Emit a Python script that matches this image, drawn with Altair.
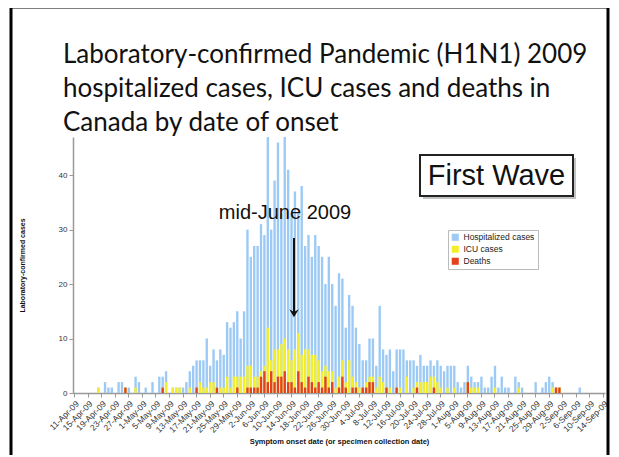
import altair as alt
import pandas as pd

# ---------------- data ----------------
tick_labels = ["11-Apr-09", "15-Apr-09", "19-Apr-09", "23-Apr-09", "27-Apr-09",
               "1-May-09", "5-May-09", "9-May-09", "13-May-09", "17-May-09",
               "21-May-09", "25-May-09", "29-May-09", "2-Jun-09", "6-Jun-09",
               "10-Jun-09", "14-Jun-09", "18-Jun-09", "22-Jun-09", "26-Jun-09",
               "30-Jun-09", "4-Jul-09", "8-Jul-09", "12-Jul-09", "16-Jul-09",
               "20-Jul-09", "24-Jul-09", "28-Jul-09", "1-Aug-09", "5-Aug-09",
               "9-Aug-09", "13-Aug-09", "17-Aug-09", "21-Aug-09", "25-Aug-09",
               "29-Aug-09", "2-Sep-09", "6-Sep-09", "10-Sep-09", "14-Sep-09"]

days = [f"{d.day}-{d.strftime('%b-%y')}" for d in pd.date_range("2009-04-11", "2009-09-14")]

hospitalized = [
    0, 0, 0, 0, 0, 0, 0, 1, 0, 2,      # 11-Apr .. 20-Apr
    1, 1, 0, 2, 2, 1, 1, 0, 3, 2,      # 21-Apr .. 30-Apr
    0, 1, 0, 2, 0, 3, 3, 4, 0, 1,      # 1-May .. 10-May
    1, 1, 1, 2, 4, 5, 6, 6, 6, 10,     # 11-May .. 20-May
    5, 8, 6, 8, 7, 13, 12, 13, 15, 10, # 21-May .. 30-May
    15, 30, 25, 27, 27, 31, 29, 50, 30, 39,  # 31-May .. 9-Jun
    46, 33, 49, 41, 33, 37, 33, 38, 27, 29,  # 10-Jun .. 19-Jun
    25, 29, 27, 25, 20, 25, 20, 16, 22, 21,  # 20-Jun .. 29-Jun
    12, 18, 16, 12, 9, 6, 6, 10, 10, 5,      # 30-Jun .. 9-Jul
    16, 8, 7, 8, 4, 8, 8, 8, 6, 6,           # 10-Jul .. 19-Jul
    6, 5, 7, 5, 5, 6, 5, 6, 5, 4,            # 20-Jul .. 29-Jul
    5, 5, 5, 2, 1, 2, 5, 3, 2, 2,            # 30-Jul .. 8-Aug
    3, 1, 1, 3, 5, 1, 3, 1, 1, 0,            # 9-Aug .. 18-Aug
    3, 2, 1, 0, 0, 0, 2, 0, 1, 2,            # 19-Aug .. 28-Aug
    3, 2, 1, 1, 0, 0, 0, 0, 0, 1,            # 29-Aug .. 7-Sep
    0, 0, 0, 0, 0, 0, 0]                     # 8-Sep .. 14-Sep

icu = [
    0, 0, 0, 0, 0, 0, 0, 1, 0, 0,
    0, 0, 0, 0, 0, 1, 0, 0, 1, 0,
    0, 0, 0, 0, 0, 0, 1, 2, 0, 1,
    1, 1, 0, 0, 1, 0, 1, 2, 1, 1,
    2, 2, 1, 1, 1, 3, 1, 3, 3, 3,
    3, 5, 5, 3, 3, 4, 5, 12, 6, 8,
    8, 9, 10, 8, 6, 8, 11, 7, 8, 8,
    7, 7, 6, 4, 5, 4, 4, 1, 3, 6,
    2, 6, 3, 2, 1, 1, 2, 3, 3, 1,
    3, 2, 1, 1, 0, 1, 1, 0, 3, 0,
    1, 2, 2, 2, 2, 3, 3, 2, 1, 0,
    1, 0, 1, 0, 0, 0, 2, 1, 1, 1,
    0, 0, 0, 0, 1, 0, 0, 0, 0, 0,
    0, 1, 0, 0, 0, 0, 0, 0, 0, 0,
    0, 1, 1, 1, 0, 0, 0, 0, 0, 0,
    0, 0, 0, 0, 0, 0, 0]

deaths = [
    0, 0, 0, 0, 0, 0, 0, 0, 0, 0,
    0, 0, 0, 0, 0, 1, 0, 0, 0, 0,
    0, 0, 0, 0, 0, 0, 1, 0, 0, 0,
    0, 0, 0, 0, 0, 0, 1, 0, 0, 0,
    0, 0, 1, 0, 0, 0, 0, 0, 1, 0,
    0, 1, 1, 1, 1, 3, 4, 2, 4, 2,
    3, 3, 4, 2, 2, 1, 4, 2, 1, 3,
    2, 1, 2, 1, 3, 1, 2, 0, 1, 3,
    1, 0, 1, 1, 0, 1, 1, 2, 2, 0,
    0, 0, 1, 0, 0, 1, 0, 0, 0, 0,
    0, 1, 0, 0, 0, 0, 1, 0, 0, 0,
    0, 0, 0, 0, 0, 0, 2, 0, 0, 0,
    0, 0, 0, 0, 0, 0, 0, 0, 0, 0,
    0, 0, 0, 0, 0, 0, 0, 0, 0, 0,
    0, 0, 1, 1, 0, 0, 0, 0, 0, 0,
    0, 0, 0, 0, 0, 0, 0]

series_names = ["Hospitalized cases", "ICU cases", "Deaths"]
series_colors = ["#9ccaf5", "#f4ee2a", "#e5421c"]

title_lines = ["Laboratory-confirmed Pandemic (H1N1) 2009",
               "hospitalized cases, ICU cases and deaths in",
               "Canada by date of onset"]

# ---------------- build table ----------------
rows = []
for name, vals in zip(series_names, [hospitalized, icu, deaths]):
    for day, v in zip(days, vals):
        rows.append({"date": day, "series": name, "value": v})
df = pd.DataFrame(rows)
one = pd.DataFrame({"k": [0]})

PW, PH = 532, 256

x_enc = alt.X("date:N", sort=days,
              scale=alt.Scale(paddingInner=0.3, paddingOuter=0.1),
              axis=alt.Axis(values=tick_labels, labelAngle=-45, labelFontSize=8.5,
                            labelFont="Liberation Sans", labelColor="#333",
                            labelPadding=2, tickColor="#999", tickSize=4,
                            domainColor="#999", domainWidth=1.5,
                            title="Symptom onset date (or specimen collection date)",
                            titleFont="Liberation Sans", titleFontSize=7.5,
                            titleFontWeight="bold", titleColor="#111",
                            titleY=48, titleBaseline="middle"))
y_enc = alt.Y("value:Q", scale=alt.Scale(domain=[0, 47], nice=False),
              axis=alt.Axis(values=[0, 10, 20, 30, 40], grid=False,
                            labelFontSize=8, labelFont="Liberation Sans",
                            labelColor="#333", labelPadding=2, tickColor="#999",
                            tickSize=4, domainColor="#999", domainWidth=1.5,
                            title="Laboratory-confirmed cases",
                            titleFont="Liberation Sans", titleFontSize=7,
                            titleFontWeight="bold", titleColor="#111",
                            titleAngle=270, titleX=-51, titleY=PH / 2,
                            titleAlign="center", titleBaseline="middle"))
color_enc = alt.Color("series:N",
                      scale=alt.Scale(domain=series_names, range=series_colors),
                      legend=alt.Legend(title=None, orient="none", legendX=375,
                                        legendY=93, symbolType="square",
                                        symbolSize=50, symbolStrokeWidth=0,
                                        labelFontSize=8.5, labelFont="Liberation Sans",
                                        labelColor="#222", rowPadding=3,
                                        padding=3, strokeColor="#bbb",
                                        fillColor="white", labelLimit=200))

bars = []
for name in series_names:
    bars.append(
        alt.Chart(df).transform_filter(alt.datum.series == name)
        .mark_bar(clip=True)
        .encode(x=x_enc, y=y_enc, color=color_enc)
    )

# slide border
border = alt.Chart(one).mark_rect(fillOpacity=0, stroke="black", strokeWidth=3).encode(
    x=alt.value(-62), x2=alt.value(535), y=alt.value(-130), y2=alt.value(360))

# title text
title = alt.Chart(one).mark_text(align="left", baseline="alphabetic", font="Lato",
                                 fontSize=26, lineHeight=34, color="#111").encode(
    x=alt.value(-10), y=alt.value(-74), text=alt.value(title_lines))

# First Wave box
shadow = alt.Chart(one).mark_rect(fill="#888", opacity=0.5).encode(
    x=alt.value(350), x2=alt.value(503), y=alt.value(21), y2=alt.value(62))
box = alt.Chart(one).mark_rect(fill="white", stroke="#222", strokeWidth=2).encode(
    x=alt.value(347), x2=alt.value(500), y=alt.value(18), y2=alt.value(59))
wave = alt.Chart(one).mark_text(font="Liberation Sans", fontSize=29, color="#111",
                                align="center", baseline="middle").encode(
    x=alt.value(423.5), y=alt.value(39), text=alt.value("First Wave"))

# annotation
mid = alt.Chart(one).mark_text(font="Liberation Sans", fontSize=20, color="#111",
                               align="center", baseline="middle").encode(
    x=alt.value(212), y=alt.value(76), text=alt.value("mid-June 2009"))
arrow = alt.Chart(one).mark_rule(color="#111", strokeWidth=2).encode(
    x=alt.value(221), y=alt.value(101), y2=alt.value(176))
head = alt.Chart(one).mark_point(shape="M-1,-1L0,0.7L1,-1L0,-0.4Z", filled=True,
                                 color="#111", size=90, opacity=1).encode(
    x=alt.value(221), y=alt.value(177))

chart = alt.layer(border, title, shadow, box, wave, *bars, mid, arrow, head).properties(
    width=PW, height=PH,
    padding={"left": 65, "top": 129, "right": 6, "bottom": 62},
    autosize=alt.AutoSizeParams(type="none"),
).configure_view(stroke=None)

chart.save("out.html", embed_options={"renderer": "svg", "actions": False})
